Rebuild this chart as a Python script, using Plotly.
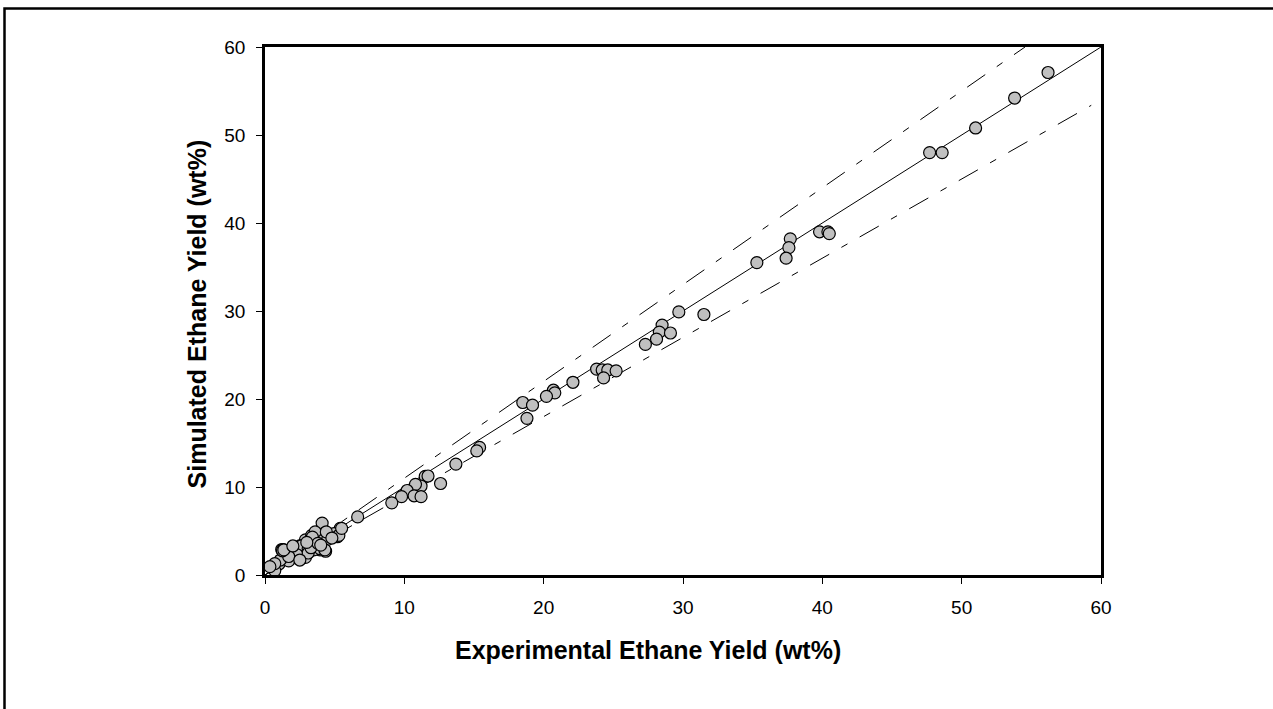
import plotly.graph_objects as go

# Experimental vs simulated ethane yield (wt%)
x_exp = [
    56.2, 53.8, 51.0, 47.7, 48.6, 39.8, 40.4, 40.5, 37.7, 37.6, 37.4,
    35.3, 31.5, 29.7, 28.5, 28.3, 29.1, 28.1, 27.3,
    23.8, 24.2, 24.6, 25.2, 24.3, 22.1, 20.7, 20.8, 20.2, 18.5, 19.2, 18.8,
    15.4, 15.2, 13.7, 12.6,
    11.5, 11.7, 11.2, 10.8, 10.2, 9.8, 9.1, 10.7, 11.2,
    6.65, 5.4, 4.95, 5.2, 4.1, 4.3, 3.6, 3.5, 4.1, 4.5, 4.35, 3.95, 3.7,
    2.9, 3.2, 2.9, 2.5, 2.35, 2.75, 1.9, 1.95, 1.6, 1.2, 1.3, 2.35, 2.9, 3.5,
    1.0, 0.5, 0.7, 1.7, 5.3, 5.5, 3.35, 3.6, 4.4, 4.8, 2.6, 3.1, 3.95, 4.3,
    1.8, 1.3, 2.3, 3.1, 1.1, 1.7, 0.7, 0.35, 2.5, 1.25, 1.35, 3.3,
    3.4, 3.8, 2.0, 4.0, 3.0,
]
y_sim = [
    57.1, 54.2, 50.8, 48.0, 48.0, 39.0, 39.0, 38.8, 38.2, 37.2, 36.0,
    35.5, 29.6, 29.9, 28.4, 27.6, 27.5, 26.8, 26.2,
    23.4, 23.3, 23.3, 23.2, 22.4, 21.9, 21.0, 20.7, 20.3, 19.6, 19.3, 17.8,
    14.5, 14.1, 12.6, 10.4,
    11.2, 11.25, 10.1, 10.3, 9.6, 8.9, 8.2, 9.0, 8.9,
    6.6, 5.3, 4.7, 4.35, 5.9, 4.8, 4.6, 3.8, 4.0, 4.05, 2.7, 2.85, 3.3,
    4.0, 3.5, 3.2, 3.3, 2.7, 2.5, 2.85, 2.0, 2.5, 2.9, 2.6, 2.0, 2.0, 2.85,
    1.25, 0.95, 0.5, 1.6, 4.5, 5.3, 4.5, 4.9, 4.9, 4.2, 3.3, 3.0, 3.0, 2.85,
    2.65, 2.9, 2.3, 2.5, 1.7, 2.1, 1.3, 0.95, 1.7, 2.75, 2.85, 3.1,
    4.3, 3.6, 3.3, 3.4, 3.7,
]

ticks = [0, 10, 20, 30, 40, 50, 60]
parity = [0, 60]
band_hi = [0, 60 / 1.1]   # +10% line ends where it reaches the top of the axis
band_lo = [0, 59.3]

font = "Liberation Sans, Arial, sans-serif"
dash = "22px,14px,7px,14px"

fig = go.Figure()
fig.add_trace(go.Scatter(x=band_hi, y=[v * 1.1 for v in band_hi], mode="lines",
                         line=dict(color="black", width=1, dash=dash), hoverinfo="skip"))
fig.add_trace(go.Scatter(x=band_lo, y=[v * 0.9 for v in band_lo], mode="lines",
                         line=dict(color="black", width=1, dash=dash), hoverinfo="skip"))
fig.add_trace(go.Scatter(x=parity, y=parity, mode="lines",
                         line=dict(color="black", width=1), hoverinfo="skip"))
fig.add_trace(go.Scatter(x=x_exp, y=y_sim, mode="markers",
                         marker=dict(size=12, color="#c0c0c0",
                                     line=dict(color="black", width=1.2))))

axis_common = dict(range=[0, 60], tickvals=ticks, ticks="outside", ticklen=6,
                   tickwidth=1, tickcolor="black", showline=True, linewidth=2.5,
                   linecolor="black", mirror=True, showgrid=False, zeroline=False,
                   tickfont=dict(family=font, size=19, color="black"))

fig.update_layout(
    width=1273, height=709,
    margin=dict(l=265, r=172, t=47, b=134),
    paper_bgcolor="white", plot_bgcolor="white",
    showlegend=False,
    xaxis=dict(axis_common, ticklabelstandoff=7),
    yaxis=dict(axis_common, ticklabelstandoff=7),
    annotations=[
        dict(text="<b>Experimental Ethane Yield (wt%)</b>", xref="paper", yref="paper",
             x=0.458, y=-0.142, xanchor="center", yanchor="middle", showarrow=False,
             font=dict(family=font, size=25, color="black")),
        dict(text="<b>Simulated Ethane Yield (wt%)</b>", xref="paper", yref="paper",
             x=-0.081, y=0.494, xanchor="center", yanchor="middle", showarrow=False,
             textangle=-90, font=dict(family=font, size=25, color="black")),
    ],
    shapes=[
        dict(type="rect", xref="paper", yref="paper", x0=-0.3116, x1=1.25,
             y0=-0.30, y1=1.0729, line=dict(color="black", width=2.5)),
    ],
)

fig.write_html("out.html")
